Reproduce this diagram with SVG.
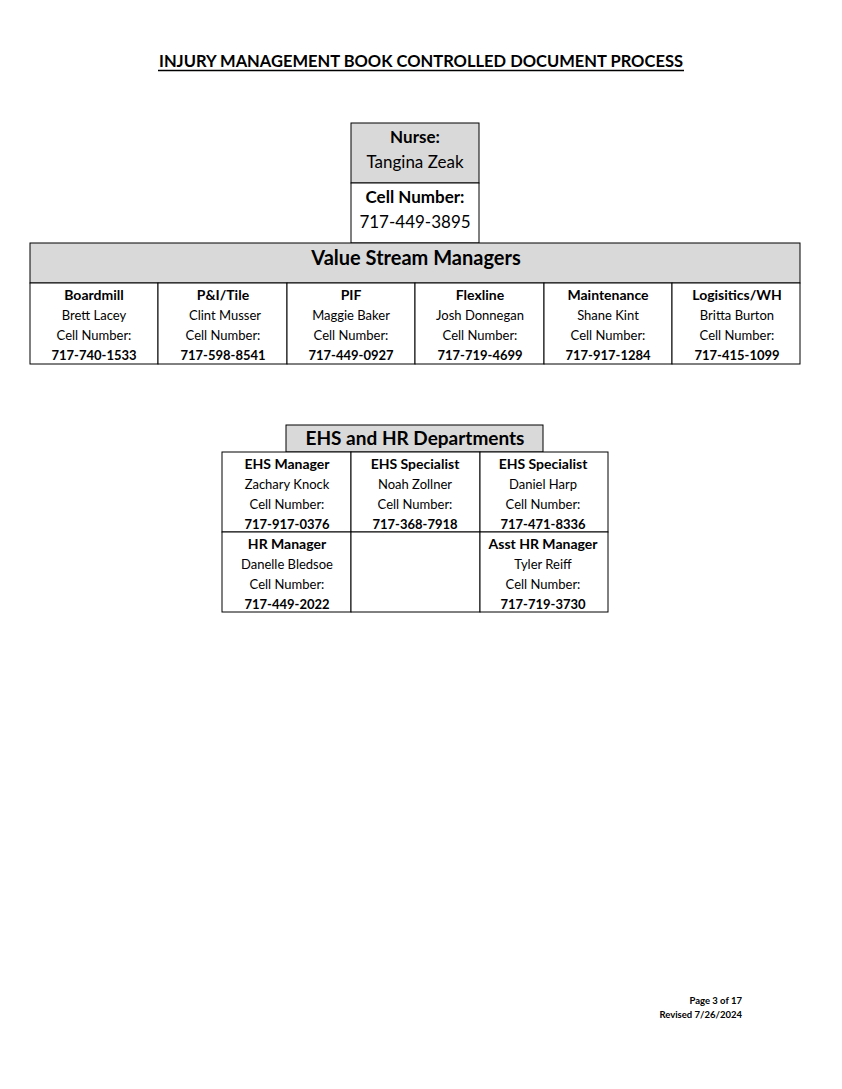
<svg xmlns="http://www.w3.org/2000/svg" width="842" height="1089" viewBox="0 0 842 1089">
<style>
text{font-family:Lato,"Open Sans","Liberation Sans",sans-serif;fill:#000;text-anchor:middle}
.b{font-weight:bold}
.h{font-weight:bold;font-size:14px}
.cell{fill:#fff;stroke:#000;stroke-width:1}
.hdr{fill:#d9d9d9;stroke:#000;stroke-width:1}
.s13{font-size:13px}
.ft{font-size:9.5px;font-weight:bold;text-anchor:end}
</style>
<rect width="842" height="1089" fill="#fff"/>
<g id="title">
<text x="421" y="67" class="b" font-size="17" textLength="524" lengthAdjust="spacingAndGlyphs">INJURY MANAGEMENT BOOK CONTROLLED DOCUMENT PROCESS</text>
<line x1="158" y1="70.5" x2="684" y2="70.5" stroke="#000" stroke-width="1.3"/>
</g>
<g id="nurse">
<rect x="351" y="123" width="128" height="60" class="hdr"/>
<rect x="351" y="183" width="128" height="60" class="cell"/>
<text x="415" y="143" class="b" font-size="17">Nurse:</text>
<text x="415" y="168" font-size="17">Tangina Zeak</text>
<text x="415" y="203" class="b" font-size="17">Cell Number:</text>
<text x="415" y="228" font-size="17">717-449-3895</text>
</g>
<g id="vsm">
<rect x="30" y="243" width="770" height="40" class="hdr"/>
<text x="416" y="265" class="b" font-size="20">Value Stream Managers</text>
<rect x="30" y="283" width="128" height="81" class="cell"/>
<rect x="158" y="283" width="129" height="81" class="cell"/>
<rect x="287" y="283" width="128" height="81" class="cell"/>
<rect x="415" y="283" width="129" height="81" class="cell"/>
<rect x="544" y="283" width="128" height="81" class="cell"/>
<rect x="672" y="283" width="128" height="81" class="cell"/>
<g class="s13">
<text x="94" y="300" class="h">Boardmill</text>
<text x="94" y="320">Brett Lacey</text>
<text x="94" y="340">Cell Number:</text>
<text x="94" y="360" class="b">717-740-1533</text>
<text x="223" y="300" class="h">P&amp;I/Tile</text>
<text x="225" y="320">Clint Musser</text>
<text x="223" y="340">Cell Number:</text>
<text x="223" y="360" class="b">717-598-8541</text>
<text x="351" y="300" class="h">PIF</text>
<text x="351" y="320">Maggie Baker</text>
<text x="351" y="340">Cell Number:</text>
<text x="351" y="360" class="b">717-449-0927</text>
<text x="480" y="300" class="h">Flexline</text>
<text x="480" y="320">Josh Donnegan</text>
<text x="480" y="340">Cell Number:</text>
<text x="480" y="360" class="b">717-719-4699</text>
<text x="608" y="300" class="h">Maintenance</text>
<text x="608" y="320">Shane Kint</text>
<text x="608" y="340">Cell Number:</text>
<text x="608" y="360" class="b">717-917-1284</text>
<text x="737" y="300" class="h">Logisitics/WH</text>
<text x="737" y="320">Britta Burton</text>
<text x="737" y="340">Cell Number:</text>
<text x="737" y="360" class="b">717-415-1099</text>
</g>
</g>
<g id="ehs">
<rect x="286" y="425" width="257" height="27" class="hdr"/>
<text x="415" y="445" class="b" font-size="19">EHS and HR Departments</text>
<rect x="222" y="452" width="129" height="80" class="cell"/>
<rect x="351" y="452" width="129" height="80" class="cell"/>
<rect x="480" y="452" width="128" height="80" class="cell"/>
<rect x="222" y="532" width="129" height="80" class="cell"/>
<rect x="351" y="532" width="129" height="80" class="cell"/>
<rect x="480" y="532" width="128" height="80" class="cell"/>
<g class="s13">
<text x="287" y="469" class="h">EHS Manager</text>
<text x="287" y="489">Zachary Knock</text>
<text x="287" y="509">Cell Number:</text>
<text x="287" y="529" class="b">717-917-0376</text>
<text x="415" y="469" class="h">EHS Specialist</text>
<text x="415" y="489">Noah Zollner</text>
<text x="415" y="509">Cell Number:</text>
<text x="415" y="529" class="b">717-368-7918</text>
<text x="543" y="469" class="h">EHS Specialist</text>
<text x="543" y="489">Daniel Harp</text>
<text x="543" y="509">Cell Number:</text>
<text x="543" y="529" class="b">717-471-8336</text>
<text x="287" y="549" class="h">HR Manager</text>
<text x="287" y="569">Danelle Bledsoe</text>
<text x="287" y="589">Cell Number:</text>
<text x="287" y="609" class="b">717-449-2022</text>
<text x="543" y="549" class="h">Asst HR Manager</text>
<text x="543" y="569">Tyler Reiff</text>
<text x="543" y="589">Cell Number:</text>
<text x="543" y="609" class="b">717-719-3730</text>
</g>
</g>
<g id="footer">
<text x="742" y="1004" class="ft">Page 3 of 17</text>
<text x="742" y="1018" class="ft">Revised 7/26/2024</text>
</g>
</svg>
